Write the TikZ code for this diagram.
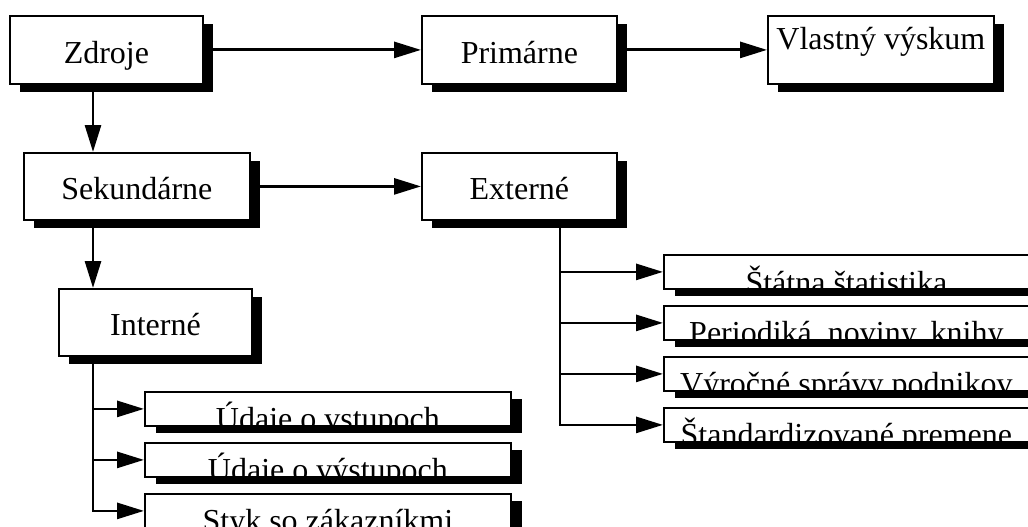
\documentclass[tikz,border=0pt]{standalone}
\usepackage{fontspec}
\setmainfont{Liberation Serif}
\usetikzlibrary{arrows.meta,shadows}
\newcommand\cliptext[3]{%
  \begin{scope}
    \clip ([yshift=0.9pt]#1.south west) rectangle ([yshift=-0.9pt]#1.north east);
    \node[lbl] (#1t) at ([yshift=#2]#1.south) {#3};
  \end{scope}}
\begin{document}
\begin{tikzpicture}[x=1pt,y=-1pt,
  box/.style={draw=black, line width=1.8pt, fill=white, inner xsep=0pt, inner ysep=0pt,
    font=\fontsize{32}{38}\selectfont, anchor=north west},
  bigbox/.style={box, text height=48pt, text depth=20pt,
    drop shadow={shadow xshift=10pt, shadow yshift=-8pt, fill=black, opacity=1}},
  smallbox/.style={box, minimum width=365pt, minimum height=34pt,
    drop shadow={shadow xshift=11pt, shadow yshift=-7pt, fill=black, opacity=1}},
  lbl/.style={anchor=base, inner sep=0pt, font=\fontsize{32}{38}\selectfont},
  arr/.style={line width=2.8pt, -{Triangle[length=27pt,width=16pt]}}
]
\useasboundingbox (0,0) rectangle (1028,527);

% main boxes
\node[bigbox, minimum width=193pt] (zdroje) at (9,15) {Zdroje};
\node[bigbox, minimum width=195pt] (primarne) at (421,15) {Primárne};
\node[bigbox, minimum width=226pt, text height=34pt, text depth=34pt] (vlastny) at (767,15) {Vlastný výskum};
\node[bigbox, minimum width=226pt, text height=47pt] (sekundarne) at (23,152) {Sekundárne};
\node[bigbox, minimum width=195pt, text height=47pt] (externe) at (421,152) {Externé};
\node[bigbox, minimum width=193pt, text height=47pt] (interne) at (58,288) {Interné};

% external sources
\node[smallbox] (s1) at (663,254) {};
\node[smallbox] (s2) at (663,305) {};
\node[smallbox] (s3) at (663,356) {};
\node[smallbox] (s4) at (663,407) {};
\cliptext{s1}{-4pt}{Štátna štatistika}
\cliptext{s2}{-3pt}{Periodiká, noviny, knihy}
\cliptext{s3}{-3pt}{Výročné správy podnikov}
\cliptext{s4}{-3pt}{Štandardizované premene}

% internal sources
\node[smallbox, minimum width=366pt] (i1) at (144,391) {};
\node[smallbox, minimum width=366pt] (i2) at (144,442) {};
\node[smallbox, minimum width=366pt] (i3) at (144,493) {};
\cliptext{i1}{-3pt}{Údaje o vstupoch}
\cliptext{i2}{-3pt}{Údaje o výstupoch}
\cliptext{i3}{-3pt}{Styk so zákazníkmi}

% connectors
\draw[arr] (zdroje.east) -- (primarne.west);
\draw[arr] (primarne.east) -- (vlastny.west);
\draw[arr] ([xshift=84pt]zdroje.south west) -- ([xshift=70pt]sekundarne.north west);
\draw[arr] (sekundarne.east) -- (externe.west);
\draw[arr] ([xshift=70pt]sekundarne.south west) -- ([xshift=35pt]interne.north west);

\coordinate (et) at ([xshift=139pt]externe.south west);
\draw[arr] (et) |- (s4.west);
\foreach \s in {s1,s2,s3} \draw[arr] (et |- \s.west) -- (\s.west);

\coordinate (it) at ([xshift=35pt]interne.south west);
\draw[arr] (it) |- (i3.west);
\foreach \s in {i1,i2} \draw[arr] (it |- \s.west) -- (\s.west);
\end{tikzpicture}
\end{document}
